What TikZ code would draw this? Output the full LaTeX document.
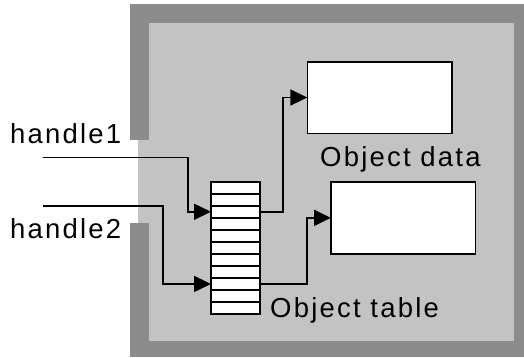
\documentclass[tikz,border=0pt]{standalone}
\usepackage{fontspec}
\setmainfont{Liberation Sans}[LetterSpace=8]
\usetikzlibrary{arrows.meta}
\definecolor{wallgray}{gray}{0.55}
\definecolor{roomgray}{gray}{0.765}
\begin{document}
\begin{tikzpicture}[x=1pt,y=-1pt,
  wire/.style={line width=1.8pt, -{Triangle[length=17pt,width=16pt]}},
  cell/.style={draw, line width=1.7pt, fill=white, minimum width=49pt, minimum height=12.03pt, inner sep=0pt, outer sep=0pt},
  objbox/.style={draw, line width=1.6pt, fill=white, inner sep=0pt, outer sep=0pt},
  lbl/.style={font=\fontsize{27.5}{33}\selectfont, inner sep=0pt, anchor=base west}]
\useasboundingbox (0,0) rectangle (524,357);
% walls and room
\fill[wallgray] (130,4) rectangle (524,357);
\fill[white] (130,140) rectangle (149,223.3);
\fill[roomgray] (138.3,140) rectangle (149,223.3);
\fill[roomgray] (149,22.7) rectangle (514,340.7);
% object table
\foreach \i in {1,...,11}{
  \node[cell] (r\i) at (235.5,{181.7+(\i-0.5)*12.03}) {};
}
% object data boxes
\node[objbox, minimum width=144.7pt, minimum height=71.6pt] (box1) at (379.65,97.5) {};
\node[objbox, minimum width=144.3pt, minimum height=72.3pt] (box2) at (403.15,217.85) {};
% labels
\node[lbl] (lh1) at (10,143.3) {handle1};
\node[lbl] (lh2) at (10,238.3) {handle2};
\node[lbl] (lod) at (320,166.7) {Object data};
\node[lbl] (lot) at (270,317.7) {Object table};
% handle lines
\coordinate (h1s) at (42.7,157.5);
\coordinate (h2s) at (42.7,205.7);
\draw[wire] (h1s) -| ([xshift=-23.3pt]r3.west) -- (r3.west);
\draw[wire] (h2s) -| ([xshift=-47.7pt]r9.west) -- (r9.west);
\draw[wire] (r3.east) -- ([xshift=23.3pt]r3.east) |- (box1.west);
\draw[wire] (r9.east) -- ([xshift=47.3pt]r9.east) |- (box2.west);
\end{tikzpicture}
\end{document}
